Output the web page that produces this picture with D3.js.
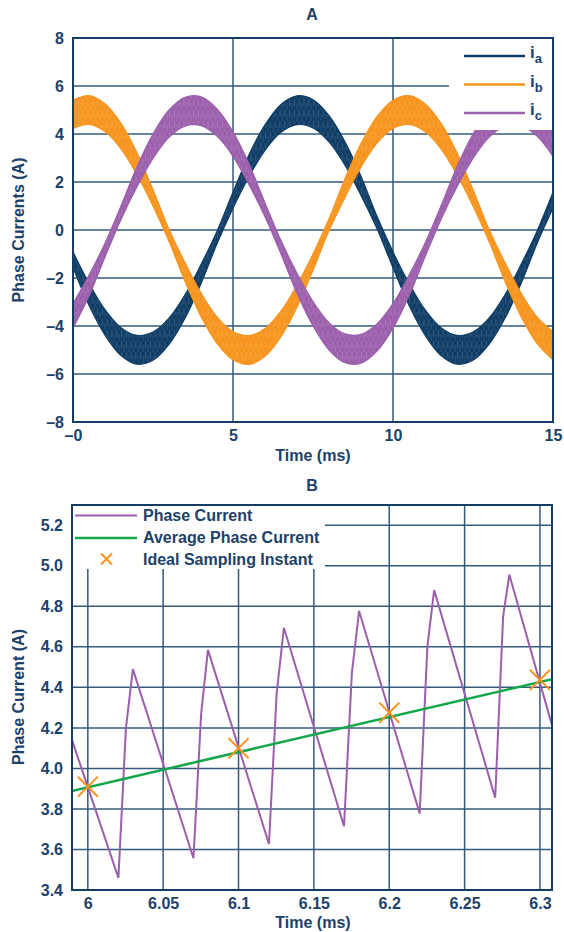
<!DOCTYPE html>
<html>
<head>
<meta charset="utf-8">
<script src="https://cdn.jsdelivr.net/npm/d3@7"></script>
<style>
  body { margin: 0; background: #fff; }
  svg { display: block; font-family: "Liberation Sans", Arial, sans-serif; font-weight: bold; }
  .tick text { fill: #1d4169; font-size: 16px; font-weight: bold; }
  .lbl { fill: #1d4169; font-size: 16px; font-weight: bold; }
</style>
</head>
<body>
<svg id="chart" width="564" height="932"></svg>
<script>
// ---------- panel A : three phase currents (0 .. 15 ms, every 0.5 ms) ----------
var timeA = [0, 0.5, 1, 1.5, 2, 2.5, 3, 3.5, 4, 4.5, 5, 5.5, 6, 6.5, 7, 7.5, 8, 8.5, 9, 9.5,
             10, 10.5, 11, 11.5, 12, 12.5, 13, 13.5, 14, 14.5, 15];
// mean value of each phase current
var iaMid = [-1.24, -2.68, -3.85, -4.65, -4.99, -4.84, -4.22, -3.19, -1.84, -0.31, 1.24, 2.68, 3.85, 4.65, 4.99, 4.84,
             4.22, 3.19, 1.84, 0.31, -1.24, -2.68, -3.85, -4.65, -4.99, -4.84, -4.22, -3.19, -1.84, -0.31, 1.24];
var ibMid = [4.82, 5.00, 4.68, 3.91, 2.76, 1.34, -0.22, -1.75, -3.11, -4.17, -4.82, -5.00, -4.68, -3.91, -2.76, -1.34,
             0.22, 1.75, 3.11, 4.17, 4.82, 5.00, 4.68, 3.91, 2.76, 1.34, -0.22, -1.75, -3.11, -4.17, -4.82];
var icMid = [-3.58, -2.32, -0.84, 0.72, 2.22, 3.49, 4.43, 4.93, 4.95, 4.48, 3.58, 2.32, 0.84, -0.72, -2.22, -3.49,
             -4.43, -4.93, -4.95, -4.48, -3.58, -2.32, -0.84, 0.72, 2.22, 3.49, 4.43, 4.93, 4.95, 4.48, 3.58];
// half height of the PWM ripple band
var iaRipple = [0.33, 0.46, 0.53, 0.58, 0.60, 0.59, 0.55, 0.49, 0.40, 0.26, 0.33, 0.46, 0.53, 0.58, 0.60, 0.59,
                0.55, 0.49, 0.40, 0.26, 0.33, 0.46, 0.53, 0.58, 0.60, 0.59, 0.55, 0.49, 0.40, 0.26, 0.33];
var ibRipple = [0.59, 0.60, 0.58, 0.53, 0.46, 0.34, 0.25, 0.39, 0.49, 0.55, 0.59, 0.60, 0.58, 0.53, 0.46, 0.34,
                0.25, 0.39, 0.49, 0.55, 0.59, 0.60, 0.58, 0.53, 0.46, 0.34, 0.25, 0.39, 0.49, 0.55, 0.59];
var icRipple = [0.51, 0.43, 0.29, 0.28, 0.42, 0.51, 0.57, 0.60, 0.60, 0.57, 0.51, 0.43, 0.29, 0.28, 0.42, 0.51,
                0.57, 0.60, 0.60, 0.57, 0.51, 0.43, 0.29, 0.28, 0.42, 0.51, 0.57, 0.60, 0.60, 0.57, 0.51];

var phaseNames = ["a", "b", "c"];
var phaseColors = ["#0f3d66", "#f7941d", "#9b5fac"];

var xTicksA = [0, 5, 10, 15];
var xLabelsA = ["\u20130", "5", "10", "15"];
var yTicksA = [-8, -6, -4, -2, 0, 2, 4, 6, 8];
var yLabelsA = ["\u20138", "\u20136", "\u20134", "\u20132", "0", "2", "4", "6", "8"];

// ---------- panel B : zoom on one phase (5.99 .. 6.31 ms) ----------
var timeB = [5.9895, 6.0203, 6.0253, 6.0299, 6.0701, 6.0752, 6.0797, 6.1202, 6.1253, 6.1301,
             6.1700, 6.1752, 6.1800, 6.2202, 6.2253, 6.2298, 6.2703, 6.2756, 6.2797, 6.3080];
var currentB = [4.14, 3.46, 4.20, 4.49, 3.557, 4.27, 4.585, 3.627, 4.37, 4.694,
                3.715, 4.47, 4.777, 3.778, 4.60, 4.88, 3.856, 4.752, 4.956, 4.213];
var avgTime = [5.9895, 6.308];
var avgCurrent = [3.889, 4.44];
var sampleTime = [6.0, 6.1, 6.2, 6.3];
var sampleCurrent = [3.91, 4.10, 4.275, 4.437];

var xTicksB = [6.0, 6.05, 6.1, 6.15, 6.2, 6.25, 6.3];
var xLabelsB = ["6", "6.05", "6.1", "6.15", "6.2", "6.25", "6.3"];
var yTicksB = [3.4, 3.6, 3.8, 4.0, 4.2, 4.4, 4.6, 4.8, 5.0, 5.2];
var yLabelsB = ["3.4", "3.6", "3.8", "4.0", "4.2", "4.4", "4.6", "4.8", "5.0", "5.2"];

var gridColor = "#345a7d";

var svg = d3.select("#chart");
var defs = svg.append("defs");

// streaky fill for the ripple bands
phaseColors.forEach(function(c, i){
	var p = defs.append("pattern").attr("id", "streak" + i)
		.attr("patternUnits", "userSpaceOnUse").attr("width", 4.8).attr("height", 11);
	p.append("rect").attr("width", 4.8).attr("height", 11).style("fill", c);
	p.append("line").attr("x1", 1.6).attr("x2", 1.6).attr("y1", 0).attr("y2", 7)
		.style("stroke", "#fff").style("stroke-opacity", 0.22).style("stroke-width", 0.8);
	p.append("line").attr("x1", 4).attr("x2", 4).attr("y1", 4).attr("y2", 11)
		.style("stroke", "#fff").style("stroke-opacity", 0.14).style("stroke-width", 0.8);
});

function frame(g, x, y, id){
	var r = {x0: x.range()[0], x1: x.range()[1], y0: y.range()[1], y1: y.range()[0]};
	defs.append("clipPath").attr("id", id)
		.append("rect")
		.attr("x", r.x0).attr("y", r.y0)
		.attr("width", r.x1 - r.x0).attr("height", r.y1 - r.y0);
	return r;
}

function grid(g, x, y, xt, yt, r){
	g.append("g").selectAll("line")
		.data(yt)
		.enter().append("line")
		.attr("x1", r.x0).attr("x2", r.x1)
		.attr("y1", function(d){ return y(d); })
		.attr("y2", function(d){ return y(d); })
		.style("stroke", gridColor).style("stroke-width", 1.5);
	g.append("g").selectAll("line")
		.data(xt)
		.enter().append("line")
		.attr("y1", r.y0).attr("y2", r.y1)
		.attr("x1", function(d){ return x(d); })
		.attr("x2", function(d){ return x(d); })
		.style("stroke", gridColor).style("stroke-width", 1.5);
}

function axes(g, x, y, xt, xl, yt, yl, r){
	var xaxis = d3.axisBottom(x).tickValues(xt).tickSize(0).tickPadding(8)
		.tickFormat(function(d, i){ return xl[i]; });
	var yaxis = d3.axisLeft(y).tickValues(yt).tickSize(0).tickPadding(9)
		.tickFormat(function(d, i){ return yl[i]; });
	g.append("g").attr("transform", "translate(0," + r.y1 + ")").call(xaxis)
		.call(function(s){ s.select(".domain").remove(); });
	g.append("g").attr("transform", "translate(" + r.x0 + ",0)").call(yaxis)
		.call(function(s){ s.select(".domain").remove(); });
	// plot border
	g.append("rect")
		.attr("x", r.x0).attr("y", r.y0)
		.attr("width", r.x1 - r.x0).attr("height", r.y1 - r.y0)
		.style("fill", "none").style("stroke", "#143c64").style("stroke-width", 2);
}

// ================= A =================
var xA = d3.scaleLinear().domain([0, 15]).range([73, 553]);
var yA = d3.scaleLinear().domain([-8, 8]).range([422, 38]);
var gA = svg.append("g");
var rA = frame(gA, xA, yA, "clipA");

grid(gA, xA, yA, [5, 10], [-6, -4, -2, 0, 2, 4, 6], rA);

var phases = [iaMid, ibMid, icMid].map(function(mid, p){
	var rip = [iaRipple, ibRipple, icRipple][p];
	return timeA.map(function(t, i){ return {t: t, mid: mid[i], rip: rip[i]}; });
});

var band = d3.area()
	.x(function(d){ return xA(d.t); })
	.y0(function(d){ return yA(d.mid - d.rip); })
	.y1(function(d){ return yA(d.mid + d.rip); })
	.curve(d3.curveCatmullRom);

gA.append("g").attr("clip-path", "url(#clipA)")
	.selectAll("path")
	.data(phases)
	.enter().append("path")
	.attr("d", band)
	.style("fill", function(d, i){ return "url(#streak" + i + ")"; })
	.style("stroke", function(d, i){ return phaseColors[i]; })
	.style("stroke-width", 1.2);

// legend A
var legA = gA.append("g");
legA.append("rect").attr("x", 449).attr("y", 39).attr("width", 103).attr("height", 91).style("fill", "#fff");
var legItemsA = legA.selectAll("g").data(phaseNames).enter().append("g")
	.attr("transform", function(d, i){ return "translate(464," + (56 + i * 28.5) + ")"; });
legItemsA.append("line").attr("x1", 0).attr("x2", 61)
	.style("stroke", function(d, i){ return phaseColors[i]; }).style("stroke-width", 2.5);
var tA = legItemsA.append("text").attr("class", "lbl").attr("x", 66).attr("y", 2);
tA.append("tspan").style("font-size", "17px").text("i");
tA.append("tspan").attr("dy", 5).style("font-size", "13px").text(function(d){ return d; });

axes(gA, xA, yA, xTicksA, xLabelsA, yTicksA, yLabelsA, rA);

svg.append("text").attr("class", "lbl").attr("x", 312).attr("y", 20).attr("text-anchor", "middle").text("A");
svg.append("text").attr("class", "lbl").attr("x", 313).attr("y", 461).attr("text-anchor", "middle").text("Time (ms)");
svg.append("text").attr("class", "lbl").attr("text-anchor", "middle")
	.attr("transform", "translate(24,230)rotate(-90)").text("Phase Currents (A)");

// ================= B =================
var xB = d3.scaleLinear().domain([5.9895, 6.308]).range([72, 552]);
var yB = d3.scaleLinear().domain([3.4, 5.3]).range([890, 505]);
var gB = svg.append("g");
var rB = frame(gB, xB, yB, "clipB");

grid(gB, xB, yB, xTicksB, yTicksB.slice(1), rB);

var plotB = gB.append("g").attr("clip-path", "url(#clipB)");

plotB.append("path")
	.datum(timeB.map(function(t, i){ return [t, currentB[i]]; }))
	.attr("d", d3.line().x(function(d){ return xB(d[0]); }).y(function(d){ return yB(d[1]); }))
	.style("fill", "none").style("stroke", "#9b5fac").style("stroke-width", 2).style("stroke-linejoin", "miter");

plotB.append("path")
	.datum(avgTime.map(function(t, i){ return [t, avgCurrent[i]]; }))
	.attr("d", d3.line().x(function(d){ return xB(d[0]); }).y(function(d){ return yB(d[1]); }))
	.style("fill", "none").style("stroke", "#13a64b").style("stroke-width", 2.5);

var cross = d3.symbol().type(d3.symbolTimes || d3.symbolX).size(265);
plotB.append("g").selectAll("path")
	.data(sampleTime)
	.enter().append("path")
	.attr("transform", function(d, i){ return "translate(" + xB(d) + "," + yB(sampleCurrent[i]) + ")"; })
	.attr("d", cross)
	.style("fill", "none").style("stroke", "#f7941d").style("stroke-width", 2);

// legend B
var legB = gB.append("g");
legB.append("rect").attr("x", 73).attr("y", 506).attr("width", 252).attr("height", 63).style("fill", "#fff");
legB.append("line").attr("x1", 75).attr("x2", 137).attr("y1", 515.5).attr("y2", 515.5)
	.style("stroke", "#9b5fac").style("stroke-width", 2);
legB.append("line").attr("x1", 75).attr("x2", 137).attr("y1", 538).attr("y2", 538)
	.style("stroke", "#13a64b").style("stroke-width", 2.5);
legB.append("path").attr("transform", "translate(106.5,559)")
	.attr("d", d3.symbol().type(d3.symbolTimes || d3.symbolX).size(80))
	.style("fill", "none").style("stroke", "#f7941d").style("stroke-width", 2);
legB.selectAll("text").data(["Phase Current", "Average Phase Current", "Ideal Sampling Instant"])
	.enter().append("text").attr("class", "lbl")
	.attr("x", 143).attr("y", function(d, i){ return 521 + i * 22; })
	.text(function(d){ return d; });

axes(gB, xB, yB, xTicksB, xLabelsB, yTicksB, yLabelsB, rB);

svg.append("text").attr("class", "lbl").attr("x", 312).attr("y", 491).attr("text-anchor", "middle").text("B");
svg.append("text").attr("class", "lbl").attr("x", 313).attr("y", 928).attr("text-anchor", "middle").text("Time (ms)");
svg.append("text").attr("class", "lbl").attr("text-anchor", "middle")
	.attr("transform", "translate(24,697)rotate(-90)").text("Phase Current (A)");
</script>
</body>
</html>
